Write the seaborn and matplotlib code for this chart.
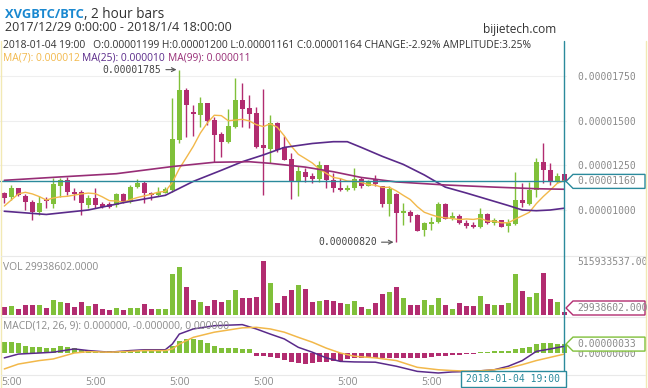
import numpy as np
import pandas as pd
import matplotlib
matplotlib.use("Agg")
import matplotlib.pyplot as plt
from matplotlib.patches import Polygon, Rectangle
import seaborn as sns

sns.set_theme(style="white")
plt.rcParams['font.family'] = ['Open Sans', 'DejaVu Sans']

W, H = 648, 388

# ---------------- data (prices in 1e-8 BTC) ----------------
open_p = [1093, 1075, 1121, 1080, 1047, 987, 1062, 1032, 1136, 1168,
          1103, 1103, 1028, 1069, 1034, 1032, 1028, 1090, 1047, 1127,
          1153, 1093, 1084, 1097, 1112, 1392, 1671, 1546, 1531, 1600,
          1503, 1425, 1382, 1466, 1615, 1569, 1541, 1364, 1341, 1489,
          1351, 1285, 1159, 1215, 1190, 1172, 1250, 1168, 1125, 1112,
          1121, 1174, 1136, 1174, 1134, 1036, 1090, 982, 991, 972,
          888, 920, 931, 1034, 954, 968, 929, 916, 903, 978,
          926, 944, 913, 922, 1056, 1034, 1112, 1267, 1224, 1157, 1199]
high_p = [1103, 1140, 1125, 1088, 1056, 1080, 1075, 1181, 1177, 1187,
          1121, 1112, 1084, 1121, 1047, 1043, 1097, 1093, 1140, 1172,
          1164, 1103, 1131, 1131, 1625, 1785, 1680, 1587, 1630, 1600,
          1522, 1438, 1563, 1736, 1708, 1643, 1578, 1675, 1531, 1494,
          1414, 1317, 1246, 1233, 1205, 1276, 1250, 1205, 1177, 1140,
          1233, 1183, 1168, 1196, 1134, 1134, 1093, 1037, 1000, 978,
          935, 959, 1047, 1041, 991, 978, 944, 935, 1010, 985,
          954, 944, 948, 1215, 1153, 1159, 1289, 1377, 1261, 1205, 1200]
low_p = [1037, 1056, 1080, 1000, 944, 972, 1009, 1009, 1075, 1084,
         1056, 972, 1013, 1013, 1009, 1013, 1019, 1037, 1041, 1121,
         1041, 1056, 1078, 1093, 1103, 1373, 1410, 1414, 1466, 1476,
         1270, 1298, 1373, 1457, 1466, 1457, 1345, 1084, 1261, 1326,
         1280, 1060, 1079, 1159, 1149, 1159, 1121, 1103, 1108, 1108,
         1112, 1121, 1136, 1136, 1015, 967, 820, 915, 935, 881,
         855, 888, 926, 948, 944, 922, 898, 901, 898, 922,
         916, 903, 879, 916, 1019, 1028, 1071, 1153, 1140, 1149, 1161]
close_p = [1065, 1121, 1084, 1043, 991, 1037, 1050, 1144, 1168, 1103,
           1091, 1037, 1069, 1028, 1019, 1019, 1090, 1047, 1131, 1153,
           1093, 1084, 1103, 1116, 1397, 1671, 1587, 1535, 1600, 1500,
           1420, 1382, 1470, 1615, 1563, 1537, 1354, 1345, 1489, 1336,
           1280, 1159, 1218, 1187, 1172, 1250, 1168, 1121, 1112, 1125,
           1172, 1134, 1162, 1146, 1034, 1116, 985, 996, 969, 885,
           926, 935, 1034, 950, 968, 926, 911, 907, 978, 926,
           944, 907, 926, 1056, 1037, 1112, 1267, 1224, 1159, 1190, 1164]
volume = [78e6, 88e6, 61e6, 94e6, 94e6, 94e6, 71e6, 146e6, 120e6, 114e6,
          81e6, 120e6, 88e6, 104e6, 55e6, 49e6, 71e6, 49e6, 71e6, 71e6,
          104e6, 61e6, 55e6, 55e6, 389e6, 454e6, 272e6, 146e6, 126e6, 88e6,
          146e6, 120e6, 146e6, 243e6, 159e6, 159e6, 175e6, 515933537, 302e6, 117e6,
          185e6, 243e6, 282e6, 253e6, 126e6, 136e6, 146e6, 129e6, 114e6, 104e6,
          136e6, 78e6, 61e6, 110e6, 201e6, 224e6, 263e6, 159e6, 94e6, 97e6,
          146e6, 97e6, 165e6, 97e6, 61e6, 114e6, 88e6, 88e6, 185e6, 104e6,
          97e6, 97e6, 110e6, 389e6, 227e6, 175e6, 207e6, 402e6, 153e6, 120e6, 29938602]
macd_hist = [40, 40, 36, 27, 21, 21, 18, 18, 27, 21,
             17, 11, 11, 9, 6, 6, 6, 6, 7, 7,
             6, 6, 6, 6, 26, 44, 52, 52, 48, 37,
             26, 17, 17, 17, 16, 15, -10, -10, -14, -18,
             -26, -34, -38, -41, -38, -34, -33, -31, -30, -22,
             -18, -17, -16, -18, -18, -18, -18, -18, -18, -18,
             -18, -16, -12, -11, -9, -6, -5, -3, 2, 4,
             6, 6, 7, 13, 18, 22, 33, 37, 36, 33, 33]
macd_idx = [0, 2, 5, 7, 10, 12, 15, 18, 20, 23, 24, 25, 27, 30, 34, 36, 38,
            40, 42, 44, 46, 48, 50, 53, 56, 59, 62, 64, 67, 70, 72, 74, 76, 78, 80]
dif_vals = [-18, -4, 0, 3, 15, 9, 3, 9, 12, 12, 33, 70, 89, 101, 105, 89, 70,
            52, 21, 3, -18, -31, -33, -34, -49, -68, -74, -70, -68, -62, -49,
            -28, 6, 15, 25]
dea_vals = [-59, -41, -28, -22, 0, 5, 3, 6, 9, 9, 15, 33, 58, 77, 93, 95, 89,
            77, 58, 40, 18, 0, -12, -18, -28, -53, -62, -65, -68, -62, -56,
            -43, -28, -16, -4]
ma7_head = [1022, 1056, 1090, 1099, 1090, 1075]
ma25_idx = [0, 6, 12, 17, 23, 27, 31, 34, 37, 40, 44, 47, 49, 51, 54, 57,
            60, 63, 66, 69, 72, 74, 76, 78, 80]
ma25_vals = [993, 975, 1000, 1041, 1082, 1160, 1222, 1270, 1308, 1350, 1372,
             1382, 1382, 1350, 1300, 1255, 1196, 1128, 1095, 1060, 1025,
             1000, 996, 1000, 1010]
ma99_idx = [0, 8, 16, 24, 30, 35, 38, 43, 47, 51, 56, 63, 70, 76, 80]
ma99_vals = [1166, 1185, 1203, 1243, 1267, 1270, 1261, 1240, 1214, 1182,
             1157, 1140, 1128, 1119, 1116]
price_ticks = [1000, 1250, 1500, 1750]
tick_idx = [1, 13, 25, 37, 49, 61]
tick_labels = ["5:00", "5:00", "5:00", "5:00", "5:00", "5:00"]
cross_price = 1160

# ---------------- styles ----------------
GREEN = "#80c03a"
RED = "#b22c70"
TEAL = "#2b8a9c"
MA7C = "#f2b84a"
MA25C = "#5a2a8a"
MA99C = "#972d76"
GRAY = "#8a8a8a"
MONO = "DejaVu Sans Mono"

o = np.array(open_p, float); c = np.array(close_p, float)
hi = np.array(high_p, float); lo = np.array(low_p, float)
vol = np.array(volume, float)
n = len(c)
x = np.arange(n)
cols = [GREEN if c[i] >= o[i] else RED for i in range(n)]

fig = plt.figure(figsize=(W / 100, H / 100), dpi=100)
fig.patch.set_facecolor("white")


def add_ax(top, bottom, left=0, right=567):
    return fig.add_axes([left / W, 1 - bottom / H, (right - left) / W, (bottom - top) / H])


ax_p = add_ax(41, 255)
ax_v = add_ax(257, 315)
ax_m = add_ax(319, 374)
XL = (-4.3 / 7, (567 - 4.3) / 7)
for ax in (ax_p, ax_v, ax_m):
    ax.set_xlim(*XL)
    ax.patch.set_alpha(0)
    for s in ax.spines.values():
        s.set_visible(False)
    ax.set_xticks([])
    ax.grid(False)

# ---- price pane ----
ax_p.set_ylim(748.3, 1945.2)
for t in price_ticks:
    ax_p.axhline(t, color="#efefef", lw=0.8, zorder=0)
ax_p.vlines(x, lo, hi, colors=cols, lw=1, zorder=2)
body_lo = np.minimum(o, c)
body_h = np.maximum(np.abs(c - o), 4)
ax_p.bar(x, body_h, bottom=body_lo, width=0.72, color=cols, linewidth=0, zorder=3)

ma7 = pd.Series(c).rolling(7).mean().values
ma7[:6] = ma7_head
sns.lineplot(x=x, y=ma7, ax=ax_p, color=MA7C, lw=1, zorder=4)
sns.lineplot(x=ma25_idx, y=ma25_vals, ax=ax_p, color=MA25C, lw=1.2, zorder=4)
sns.lineplot(x=ma99_idx, y=ma99_vals, ax=ax_p, color=MA99C, lw=1.2, zorder=4)
ax_p.axhline(cross_price, color=TEAL, lw=1, zorder=5)

ax_p.yaxis.tick_right()
ax_p.set_yticks(price_ticks)
ax_p.set_yticklabels([f"{v * 1e-8:.8f}" for v in price_ticks])
ax_p.tick_params(axis="y", length=0, pad=7.5, labelsize=7, labelcolor=GRAY)
for lb in ax_p.get_yticklabels():
    lb.set_fontfamily(MONO)
ax_p.set_xlabel(""); ax_p.set_ylabel("")

imax = int(np.argmax(hi)); imin = int(np.argmin(lo))
ax_p.annotate(f"{hi[imax] * 1e-8:.8f}", xy=(imax, hi[imax]), xytext=(-13, 0),
              textcoords="offset points", ha="right", va="center", fontsize=7,
              family=MONO, color="#444444",
              arrowprops=dict(arrowstyle="->", color="#555555", lw=0.8, shrinkA=1, shrinkB=2))
ax_p.annotate(f"{lo[imin] * 1e-8:.8f}", xy=(imin, lo[imin]), xytext=(-14, 0),
              textcoords="offset points", ha="right", va="center", fontsize=7,
              family=MONO, color="#444444",
              arrowprops=dict(arrowstyle="->", color="#555555", lw=0.8, shrinkA=1, shrinkB=2))

# ---- volume pane ----
vmax = vol.max()
ax_v.set_ylim(0, vmax * 58 / 54)
ax_v.bar(x, vol, width=0.72, color=cols, linewidth=0)
ax_v.yaxis.tick_right()
ax_v.set_yticks([vmax])
ax_v.set_yticklabels([f"{vmax:.2f}"])
ax_v.tick_params(axis="y", length=0, pad=7.5, labelsize=7, labelcolor=GRAY)
for lb in ax_v.get_yticklabels():
    lb.set_fontfamily(MONO)

# ---- MACD pane ----
ax_m.set_ylim(-77.7, 125.8)
hcols = [GREEN if v >= 0 else RED for v in macd_hist]
ax_m.bar(x, macd_hist, width=0.72, color=hcols, linewidth=0, zorder=2)
sns.lineplot(x=macd_idx, y=dif_vals, ax=ax_m, color=MA25C, lw=1.1, zorder=3)
sns.lineplot(x=macd_idx, y=dea_vals, ax=ax_m, color=MA7C, lw=1.1, zorder=3)
ax_m.set_xlabel(""); ax_m.set_ylabel("")
ax_m.yaxis.tick_right()
ax_m.set_yticks([0])
ax_m.set_yticklabels(["0.00000000"])
ax_m.tick_params(axis="y", length=0, pad=7.5, labelsize=7, labelcolor=GRAY)
for lb in ax_m.get_yticklabels():
    lb.set_fontfamily(MONO)
ax_m.set_xticks(tick_idx)
ax_m.set_xticklabels(tick_labels)
ax_m.tick_params(axis="x", length=0, pad=2, labelsize=7.5, labelcolor=GRAY)

# ---------------- overlay (pixel coordinates) ----------------
ov = fig.add_axes([0, 0, 1, 1], zorder=10)
ov.set_xlim(0, W); ov.set_ylim(H, 0); ov.axis("off"); ov.patch.set_alpha(0)

for xx in (0.6, 645.5):
    ov.plot([xx, xx], [41, 388], color="#f2e9b4", lw=1)
for yy in (256, 317, 374.5):
    ov.plot([1, 645], [yy, yy], color="#e9e9e9", lw=0.8)

fig.canvas.draw()
rend = fig.canvas.get_renderer()


def seq_text(x0, y, parts, **kw):
    xx = x0
    for s, col, extra in parts:
        t = ov.text(xx, y, s, color=col, va="center", **kw, **extra)
        bb = t.get_window_extent(renderer=rend)
        xx = bb.x1
    return xx


seq_text(5, 14, [("XVGBTC/BTC", "#1a88d0", {"weight": "bold", "fontsize": 9.3}),
                 (", 2 hour bars", "#333333", {"fontsize": 9.8})])
ov.text(5, 27.5, "2017/12/29 0:00:00 - 2018/1/4 18:00:00", color="#333333",
        va="center", fontsize=9)
ov.text(483, 29.5, "bijietech.com", color="#333333", va="center", fontsize=8.6)
ov.text(3, 45.5, "2018-01-04 19:00   O:0.00001199 H:0.00001200 L:0.00001161 "
        "C:0.00001164 CHANGE:-2.92% AMPLITUDE:3.25%", color="#333333",
        va="center", fontsize=7.4)
seq_text(3, 58, [("MA(7): 0.000012 ", MA7C, {}), ("MA(25): 0.000010 ", MA25C, {}),
                 ("MA(99): 0.000011", MA99C, {})], fontsize=7.4)
ov.text(3, 267, "VOL 29938602.0000", color=GRAY, va="center", fontsize=7.4)
ov.text(3, 326, "MACD(12, 26, 9): 0.000000, -0.000000, 0.000000", color=GRAY,
        va="center", fontsize=7.4)

xc = ax_p.transData.transform((n - 1, 0))[0]
ov.plot([xc, xc], [41, 371], color=TEAL, lw=1, zorder=3)


def to_ov_y(ax, val):
    return H - ax.transData.transform((0, val))[1]


def tag(yc, text, ec):
    pts = [(566, yc), (573, yc - 7), (645, yc - 7), (645, yc + 7), (573, yc + 7)]
    ov.add_patch(Polygon(pts, closed=True, fc="white", ec=ec, lw=1, zorder=5))
    ov.text(577, yc, text, family=MONO, fontsize=7, color=GRAY, va="center",
            zorder=6, clip_on=True)


tag(to_ov_y(ax_p, cross_price), f"{cross_price * 1e-8:.8f}", TEAL)
tag(min(to_ov_y(ax_v, vol[-1]), 308), f"{vol[-1]:.3f}", RED)
tag(to_ov_y(ax_m, macd_hist[-1]), f"{macd_hist[-1] * 1e-8:.8f}", GREEN)

ov.add_patch(Rectangle((461, 371), 105, 16, fc="white", ec=TEAL, lw=1, zorder=5))
ov.text(513.5, 379, "2018-01-04 19:00", family=MONO, fontsize=7, color=TEAL,
        ha="center", va="center", zorder=6)

fig.savefig("out.png", dpi=100)
